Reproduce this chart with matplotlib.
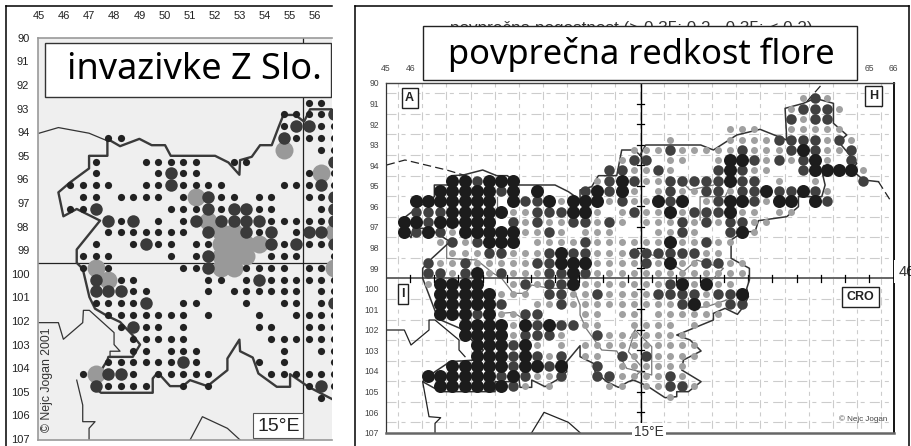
import matplotlib
matplotlib.use("Agg")
import matplotlib.pyplot as plt
from matplotlib.lines import Line2D
from matplotlib.patches import Rectangle

plt.rcParams['lines.scale_dashes'] = False

W, H = 911, 446

col_labels = list(range(45, 57))
row_labels = list(range(90, 108))
col_labels_r = [45, 46, 65, 66]

# left map: row -> grid columns (col = 46.25 + 0.5 * index)
left_small = {
    92.75: [19, 20], 93.25: [17, 18, 19, 20], 93.75: [17, 20, 21], 94.25: [3, 4, 18, 19, 20, 21],
    94.75: [20, 21], 95.25: [2, 6, 7, 8, 9, 10, 13, 14], 95.75: [2, 7, 9, 10, 19, 21],
    96.25: [0, 1, 2, 3, 6, 7, 9, 10, 11, 12, 17, 18, 19, 21],
    96.75: [1, 2, 4, 5, 6, 7, 9, 12, 13, 15, 16, 19, 20],
    97.25: [0, 1, 8, 9, 10, 12, 15, 16, 20], 97.75: [4, 7, 9, 16, 17, 18, 19, 20],
    98.25: [3, 4, 5, 6, 7, 8, 9, 15, 18], 98.75: [2, 5, 7, 8, 10, 11, 17, 19, 20],
    99.25: [1, 2, 3, 8, 10, 16, 17, 18, 21], 99.75: [1, 3, 9, 10, 14, 15, 16, 17, 19, 20],
    100.25: [4, 5, 11, 12, 14, 16, 17, 18, 19, 20, 21],
    100.75: [5, 6, 11, 13, 14, 15, 16, 17, 18, 20, 21],
    101.25: [2, 3, 4, 5, 9, 10, 14, 17, 18, 20],
    101.75: [3, 4, 5, 6, 7, 8, 9, 11, 15, 18, 19, 20, 21],
    102.25: [4, 6, 7, 9, 15, 16, 19, 20, 21], 102.75: [5, 6, 7, 8, 9, 16, 17, 18, 19, 20, 21],
    103.25: [5, 6, 8, 9, 10, 17, 20, 21], 103.75: [3, 4, 5, 6, 7, 8, 10, 15, 17, 21],
    104.25: [1, 5, 7, 8, 9, 10, 11, 16, 17, 18, 19, 20, 21],
    104.75: [3, 4, 5, 6, 9, 11, 19, 21], 105.25: [20],
}
left_big = {
    93.25: [21], 93.75: [18, 19], 94.25: [17], 95.25: [21], 95.75: [8], 96.25: [8, 20],
    96.75: [11, 21], 97.25: [2, 11, 13, 14, 21], 97.75: [3, 5, 10, 12, 13, 14, 15, 21],
    98.25: [11, 14, 16, 19, 20], 98.75: [6, 16, 18, 21], 99.25: [11], 99.75: [11],
    100.25: [2, 15], 100.75: [2, 3, 4], 101.25: [6, 21], 102.25: [5], 103.75: [9],
    104.25: [3, 4], 104.75: [2, 20],
}
left_gray = {
    94.75: [17], 95.75: [20], 96.75: [10], 97.75: [11], 98.25: [12, 13, 21],
    98.75: [12, 13, 14, 15], 99.25: [12, 13, 14], 99.75: [2, 12, 13, 21], 100.25: [3], 104.25: [2],
}

# right map: row -> grid columns (col = 45.75 + 0.5 * index)
right_light = {
    90.75: [33, 35], 91.25: [32, 36], 91.75: [33], 92.25: [27, 28, 29, 32, 33, 34, 35, 36],
    92.75: [22, 27, 28, 29, 30, 35, 37], 93.25: [19, 20, 21, 23, 24, 25, 26, 27, 29, 30, 31, 35, 36],
    93.75: [18, 22, 23, 26, 30, 32, 35], 94.25: [19, 20, 22, 29, 30, 38],
    94.75: [16, 20, 21, 31, 34], 95.25: [19, 21, 23, 24, 27, 35], 95.75: [13, 17, 19, 20, 25, 30],
    96.25: [9, 10, 16, 18, 20, 21, 23, 28, 29, 31, 32],
    96.75: [10, 12, 13, 16, 18, 20, 21, 22, 24, 26, 29, 30],
    97.25: [4, 10, 11, 13, 15, 16, 17, 21, 22, 24, 29],
    97.75: [3, 5, 11, 12, 13, 14, 16, 17, 18, 19, 20, 21, 23, 24, 26, 27],
    98.25: [4, 5, 6, 9, 10, 11, 16, 17, 18, 25, 26],
    98.75: [3, 4, 6, 7, 8, 9, 10, 16, 17, 18, 19, 21, 23, 24, 27, 28],
    99.25: [4, 7, 9, 10, 11, 16, 17, 18, 19, 20, 21, 22, 23, 24, 25, 26, 27, 28],
    99.75: [2, 9, 11, 15, 16, 17, 18, 19, 20, 21, 24, 26, 27],
    100.25: [8, 9, 10, 14, 15, 17, 18, 19, 20, 25],
    100.75: [11, 12, 14, 15, 16, 17, 18, 19, 20, 21, 22, 25, 26],
    101.25: [8, 9, 15, 16, 18, 19, 21, 22, 23, 24, 25, 26],
    101.75: [9, 15, 16, 19, 20, 21, 22, 24], 102.25: [9, 13, 17, 18, 19, 20, 21, 22, 23],
    102.75: [11, 13, 15, 16, 17, 18, 19, 20, 21, 22, 23, 24],
    103.25: [12, 15, 16, 19, 21, 22, 23, 24], 103.75: [18, 19, 20, 21, 22, 23],
    104.25: [11, 12, 18, 19, 20, 21, 23], 104.75: [10, 12, 17, 18, 20, 21, 24], 105.25: [22],
}
right_mid = {
    90.75: [34], 91.25: [33, 34, 35], 91.75: [32, 34, 35], 92.75: [31, 32, 33, 34, 36],
    93.25: [22, 28, 32, 34, 37], 93.75: [19, 20, 29, 31, 33, 37], 94.25: [17, 18, 21, 26, 28, 33],
    94.75: [6, 17, 19, 22, 23, 24, 25, 26, 28, 29, 38],
    95.25: [8, 15, 17, 22, 25, 26, 28, 29, 31, 32, 34], 95.75: [10, 11, 18, 22, 26, 29, 35],
    96.25: [1, 2, 3, 11, 12, 13, 19, 24, 25, 26], 96.75: [2, 9, 11, 14, 15, 17, 23, 25, 27, 28],
    97.25: [1, 3, 12, 23, 27], 97.75: [4, 6, 15, 25],
    98.25: [7, 8, 12, 14, 15, 19, 20, 21, 22, 23, 24], 98.75: [2, 5, 11, 12, 20, 25, 26],
    99.25: [2, 3, 5, 8, 12, 13, 15], 99.75: [10, 12, 13, 22],
    100.25: [12, 13, 16, 21, 22, 23, 24, 26, 27], 100.75: [8, 13, 23, 27, 28],
    101.25: [6, 10, 11], 101.75: [11, 13, 14], 102.25: [10, 11, 12, 16], 102.75: [9],
    103.25: [9, 11, 13, 18, 20], 103.75: [9, 12, 16], 104.25: [8, 10, 13, 16, 17, 22],
    104.75: [9, 22, 23],
}
right_dark = {
    93.25: [33], 93.75: [27, 28, 34], 94.25: [27, 34, 35, 36, 37], 94.75: [4, 5, 7, 8, 9, 18, 27],
    95.25: [3, 4, 5, 6, 7, 9, 11, 16, 18, 30, 33],
    95.75: [1, 2, 3, 4, 5, 6, 7, 9, 12, 14, 15, 16, 21, 23, 27, 28, 31, 32, 34],
    96.25: [4, 5, 6, 7, 8, 14, 15, 22, 27], 96.75: [0, 1, 3, 4, 5, 6, 7],
    97.25: [0, 2, 5, 6, 7, 8, 9, 28], 97.75: [7, 8, 9, 22], 98.25: [13], 98.75: [13, 14, 15, 22],
    99.25: [6, 14], 99.75: [3, 4, 5, 6, 14, 23, 25], 100.25: [3, 4, 5, 6, 7, 28],
    100.75: [3, 4, 5, 6, 7, 24], 101.25: [3, 4, 5, 7], 101.75: [5, 6, 7, 8, 10, 12],
    102.25: [5, 6, 7, 8], 102.75: [6, 7, 8, 10], 103.25: [6, 7, 8, 10],
    103.75: [4, 5, 6, 7, 8, 10, 11, 13], 104.25: [2, 3, 4, 5, 6, 7, 9], 104.75: [3, 4, 5, 6, 7, 8],
}

# borders (3x image pixels)
left_border = [(996, 325), (930, 325), (912, 362), (885, 342), (850, 342), (835, 380), (815, 433), (780, 433),
               (755, 468), (720, 478), (718, 522), (685, 485), (645, 465), (512, 465), (495, 433), (455, 433),
               (418, 414), (360, 436), (322, 414), (322, 465), (267, 465), (267, 503), (210, 545), (175, 575),
               (190, 647), (230, 625), (300, 660), (230, 747), (230, 787), (248, 805), (268, 890), (285, 925),
               (322, 947), (360, 965), (398, 1005), (420, 1033), (398, 1070), (325, 1070), (322, 1080),
               (285, 1140), (285, 1165), (303, 1178), (458, 1178), (458, 1135), (473, 1117), (510, 1158),
               (548, 1158), (570, 1140), (622, 1158), (682, 1110), (682, 1075), (718, 1018), (720, 1053),
               (758, 1072), (775, 1120), (830, 1160), (870, 1160), (870, 1122), (925, 1160), (963, 1180),
               (996, 1197)]
left_thin = [
    [(117, 397), (175, 380), (267, 397), (322, 420)],
    [(117, 967), (175, 967), (190, 1017), (248, 967), (250, 930), (268, 930), (342, 997), (342, 1033),
     (360, 1053), (330, 1053), (330, 1072)],
    [(230, 1140), (248, 1215), (248, 1265), (285, 1265), (267, 1285), (267, 1320)],
    [(570, 1320), (607, 1250), (682, 1285), (720, 1320)],
]

right_border = [(1390, 525), (1448, 510), (1490, 527), (1522, 527), (1555, 555), (1665, 555), (1705, 575),
                (1740, 600), (1740, 570), (1775, 560), (1795, 527), (1850, 527), (1865, 450), (1903, 450),
                (1925, 470), (1920, 465), (1937, 435), (2102, 435), (2140, 450), (2210, 405), (2280, 388),
                (2360, 420), (2355, 325), (2410, 310), (2445, 295), (2500, 310), (2500, 370), (2540, 405),
                (2515, 425), (2570, 490), (2555, 510), (2590, 540), (2635, 545)]
right_border2 = [(2468, 525), (2475, 555), (2465, 590), (2395, 590), (2395, 620), (2360, 650), (2275, 662),
                 (2265, 695), (2230, 695), (2193, 720), (2193, 775), (2248, 805), (2248, 840), (2240, 865),
                 (2245, 890), (2230, 920), (2212, 943), (2175, 925), (2140, 940), (2140, 960), (2050, 997),
                 (2030, 1005), (2070, 1020), (2103, 1053), (2050, 1080), (2045, 1110), (2103, 1145),
                 (2065, 1175), (2030, 1175), (2030, 1190), (1995, 1193), (1940, 1157), (1900, 1140),
                 (1885, 1145), (1855, 1162), (1820, 1145), (1785, 1115), (1780, 1090), (1740, 1070),
                 (1740, 1037), (1700, 1085), (1700, 1115), (1670, 1140), (1635, 1160), (1595, 1140),
                 (1595, 1162), (1560, 1162), (1555, 1122), (1540, 1145), (1485, 1145), (1485, 1175),
                 (1322, 1175), (1268, 1145), (1305, 1115), (1350, 1085), (1425, 1080), (1450, 1050),
                 (1415, 1020), (1380, 985), (1322, 960), (1308, 940), (1268, 835), (1268, 805), (1285, 785),
                 (1350, 725), (1287, 685), (1240, 685), (1233, 713), (1197, 665), (1250, 625), (1303, 590),
                 (1303, 555), (1355, 555), (1355, 527), (1390, 525)]
right_inner = [
    [(1340, 725), (1340, 775), (1430, 780), (1480, 820), (1505, 835), (1540, 880), (1575, 880), (1595, 855),
     (1650, 865), (1720, 865), (1740, 915), (1740, 945), (1758, 985), (1805, 1050), (1850, 1053), (1880, 1105),
     (1920, 1115)],
    [(1503, 940), (1540, 937), (1575, 960)],
    [(1490, 590), (1490, 640)],
    [(2190, 560), (2175, 590), (2100, 590), (2100, 660)],
    [(2050, 550), (2070, 570), (2140, 555)],
    [(1890, 760), (1940, 760), (1990, 775), (2050, 815), (2090, 780), (2170, 805), (2135, 840)],
    [(2065, 895), (2065, 925), (2120, 920), (2180, 900)],
    [(1890, 1015), (1905, 990), (1955, 1040), (1955, 1125), (1920, 1115), (1890, 1145)],
    [(1905, 990), (1885, 1055), (1920, 1095)],
    [(2468, 495), (2468, 525)],
]
right_foreign = [
    [(1160, 990), (1213, 990), (1233, 1035), (1287, 990), (1287, 960), (1305, 960), (1377, 1020), (1377, 1050),
     (1395, 1070)],
    [(1268, 1145), (1287, 1250), (1322, 1253), (1305, 1270), (1305, 1298)],
    [(1595, 1298), (1632, 1237), (1705, 1267), (1740, 1298)],
]
right_dashed = [
    [(1160, 495), (1215, 480), (1340, 510), (1390, 525)],
    [(2420, 305), (2468, 250)],
    [(2635, 545), (2670, 600)],
]


def lcol(x):
    return 45 + (x - 117) / 75.3


def lrow(y):
    return 90 + (y - 109.6) / 71.04


def rcol(x):
    return 45 + (x / 3 - 386) / 24.15


def rrow(y):
    return 90 + (y / 3 - 83) / 20.57


def make_ax(x0, x1, y0, y1):
    return fig.add_axes([x0 / W, 1 - y1 / H, (x1 - x0) / W, (y1 - y0) / H])


def frame(x0, y0, x1, y1):
    fig.add_artist(Line2D([x0 / W, x1 / W], [1 - y0 / H, 1 - y1 / H], color='black', lw=1.1))


def dots(ax, table, start, d, color, z):
    xs, ys = [], []
    for row, cols in table.items():
        for c in cols:
            xs.append(start + 0.5 * c)
            ys.append(row)
    ax.scatter(xs, ys, s=(d * 0.72) ** 2, color=color, linewidths=0, zorder=z)


def path(ax, pts, fx, fy, **kw):
    ax.plot([fx(p[0]) for p in pts], [fy(p[1]) for p in pts], **kw)


fig = plt.figure(figsize=(W / 100, H / 100), dpi=100)

frame(6, 6, 332, 6)
frame(6, 6, 6, 446)
frame(354.5, 6, 909, 6)
frame(354.5, 6, 354.5, 446)
frame(909, 6, 909, 446)

# left panel
ax = make_ax(38.3, 332, 37.7, 440)
ax.set_xlim(44.97, 56.67)
ax.set_ylim(107.04, 90.05)
ax.set_facecolor('#efefef')
ax.spines['right'].set_visible(False)
for side in ['left', 'top', 'bottom']:
    ax.spines[side].set_color('#999999')
    ax.spines[side].set_linewidth(1.2)
ax.xaxis.tick_top()
ax.set_xticks(col_labels)
ax.set_yticks(row_labels)
ax.tick_params(axis='x', length=0, pad=12, labelsize=8, labelcolor='#222222')
ax.tick_params(axis='y', length=0, pad=6.5, labelsize=8, labelcolor='#222222')
for lab in ax.get_xticklabels() + ax.get_yticklabels():
    lab.set_family('Liberation Sans')

ax.axvline(55.5, color='#222222', lw=0.9, zorder=1)
ax.axhline(99.55, color='#222222', lw=0.9, zorder=1)
for line in left_thin:
    path(ax, line, lcol, lrow, color='#333333', lw=0.9, zorder=2)
path(ax, left_border, lcol, lrow, color='#3a3a3a', lw=1.7, zorder=2)
dots(ax, left_gray, 46.25, 18, '#999999', 3)
dots(ax, left_big, 46.25, 12.5, '#3a3a3a', 4)
dots(ax, left_small, 46.25, 7.2, '#222222', 5)

ax.add_patch(Rectangle((lcol(136), lrow(125)), lcol(994) - lcol(136), lrow(287) - lrow(125), facecolor='white',
                       edgecolor='#333333', lw=1, zorder=8))
ax.text(lcol(582), lrow(206), 'invazivke Z Slo.', family='Noto Sans', fontsize=26, color='black', ha='center',
        va='center', zorder=9)
ax.add_patch(Rectangle((lcol(760), lrow(1240)), lcol(910) - lcol(760), lrow(1315) - lrow(1240), facecolor='white',
                       edgecolor='#555555', lw=0.8, zorder=8))
ax.text(lcol(835), lrow(1280), '15°E', family='Liberation Sans', fontsize=14, color='#222222', ha='center',
        va='center', zorder=9)
ax.text(lcol(140), lrow(1140), '© Nejc Jogan 2001', family='Liberation Sans', fontsize=8.8, color='#333333',
        rotation=90, ha='center', va='center', zorder=9)

# right panel
ax2 = make_ax(386, 894, 83, 432.7)
ax2.set_xlim(45, 66.03)
ax2.set_ylim(107, 90)
ax2.spines['left'].set_color('#333333')
ax2.spines['left'].set_linewidth(0.9)
ax2.spines['top'].set_color('#444444')
ax2.spines['top'].set_linewidth(1)
ax2.spines['right'].set_color('black')
ax2.spines['right'].set_linewidth(1.3)
ax2.spines['bottom'].set_color('#666666')
ax2.spines['bottom'].set_linewidth(1.8)
ax2.xaxis.tick_top()
ax2.set_xticks(col_labels_r)
ax2.set_yticks(row_labels)
ax2.tick_params(axis='x', length=0, pad=7.5, labelsize=6.2, labelcolor='#444444')
ax2.tick_params(axis='y', length=0, pad=5, labelsize=6.2, labelcolor='#444444')
for lab in ax2.get_xticklabels() + ax2.get_yticklabels():
    lab.set_family('Liberation Sans')

for c in range(45, 66):
    ax2.plot([c + 0.5, c + 0.5], [90, 107], color='#cccccc', lw=0.8, zorder=1,
             dashes=(2.9, 3.1, 5.8, 3.0), dash_capstyle='butt')
for r in range(90, 107):
    ax2.plot([45, 66.03], [r + 0.5, r + 0.5], color='#cccccc', lw=0.8, zorder=1,
             dashes=(7.2, 3.6, 2.9, 3.7), dash_capstyle='butt')

ax2.axhline(99.5, color='#666666', lw=1.4, zorder=2)
ax2.plot([55.55, 55.55], [90, 106.5], color='black', lw=1, zorder=2)
for c in range(46, 66):
    ax2.plot([c, c], [99.35, 99.65], color='black', lw=0.9, zorder=2)
for r in range(91, 107):
    ax2.plot([55.4, 55.7], [r, r], color='black', lw=0.9, zorder=2)

for line in right_foreign:
    path(ax2, line, rcol, rrow, color='#222222', lw=0.9, zorder=2)
for line in right_dashed:
    path(ax2, line, rcol, rrow, color='#222222', lw=0.9, zorder=2, dashes=(6, 3))
for line in right_inner:
    path(ax2, line, rcol, rrow, color='#777777', lw=0.9, zorder=2)
path(ax2, right_border, rcol, rrow, color='#333333', lw=1.1, zorder=2)
path(ax2, right_border2, rcol, rrow, color='#333333', lw=1.1, zorder=2)

dots(ax2, right_light, 45.75, 7, '#a0a0a0', 3)
dots(ax2, right_mid, 45.75, 10.5, '#404040', 4)
dots(ax2, right_dark, 45.75, 13, '#1c1c1c', 5)

for text, x0, x1, y0, y1 in [('A', 1205, 1253, 265, 325), ('H', 2595, 2645, 258, 318),
                             ('I', 1193, 1225, 853, 913), ('CRO', 2527, 2637, 862, 922)]:
    ax2.add_patch(Rectangle((rcol(x0), rrow(y0)), rcol(x1) - rcol(x0), rrow(y1) - rrow(y0), facecolor='white',
                            edgecolor='#222222', lw=1, zorder=6))
    ax2.text(rcol((x0 + x1) / 2), rrow((y0 + y1) / 2), text, family='Liberation Sans', fontweight='bold',
             fontsize=9, color='#222222', ha='center', va='center', zorder=7)

ax2.text(rcol(2590), rrow(1257), '© Nejc Jogan', family='Liberation Sans', fontsize=5.8, color='#444444',
         ha='center', va='center', zorder=7)

fig.text(631 / W, 1 - 28 / H, 'povprečna pogostnost (> 0.35; 0.2 - 0.35; < 0.2)', family='Liberation Sans',
         fontsize=12.3, color='#333333', ha='center', va='center', zorder=-1)

ax2.add_patch(Rectangle((rcol(1270), rrow(78)), rcol(2570) - rcol(1270), rrow(241) - rrow(78), facecolor='white',
                        edgecolor='#222222', lw=1, zorder=8, clip_on=False))
ax2.text(rcol(1923), rrow(165), 'povprečna redkost flore', family='Noto Sans', fontsize=24.8, color='black',
         ha='center', va='center', zorder=9, clip_on=False)

ax2.text(rcol(1947), rrow(1297), '15°E', family='Liberation Sans', fontsize=9.8, color='#333333', ha='center',
         va='center', zorder=9, clip_on=False,
         bbox=dict(facecolor='white', edgecolor='none', pad=1.5))
ax2.text(rcol(2695), rrow(815), '46', family='Liberation Sans', fontsize=10.5, color='#333333', ha='left',
         va='center', zorder=9, clip_on=False,
         bbox=dict(facecolor='white', edgecolor='none', pad=3))

fig.savefig('out.png', dpi=100)
